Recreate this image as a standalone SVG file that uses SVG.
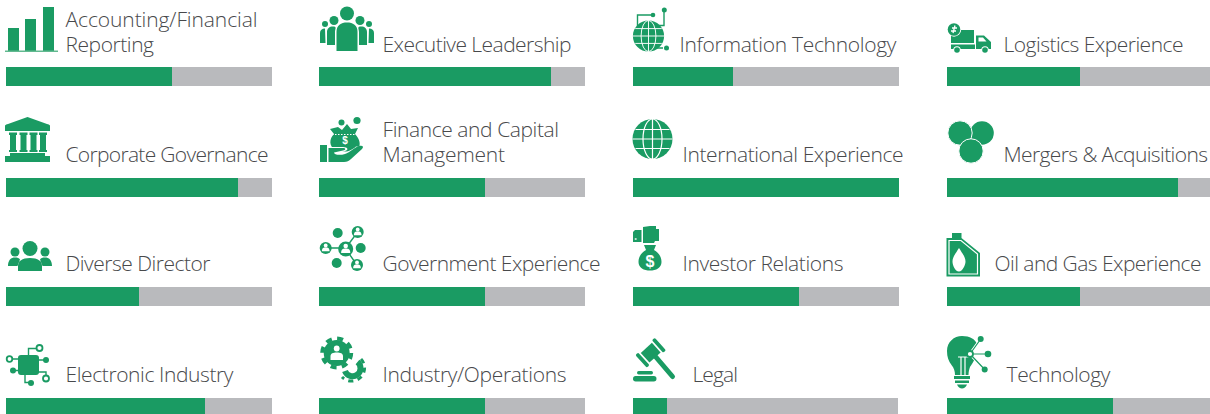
<svg xmlns="http://www.w3.org/2000/svg" width="1210" height="414" viewBox="0 0 1210 414">
<style>
.g{fill:#1a9b63}
.b{fill:#b9babd}
.w{fill:#fff}
.t{font-family:"Open Sans","Liberation Sans",sans-serif;font-weight:300;font-size:21px;fill:#48494b}
.l{fill:none;stroke:#1a9b63;stroke-width:1.4}
.wl{fill:none;stroke:#fff;stroke-width:1.2}
.r{fill:#fff;stroke:#1a9b63;stroke-width:1.8}
.d{font-family:"Liberation Sans",sans-serif;font-weight:700;fill:#fff;text-anchor:middle}
</style>
<defs>
<g id="globe"><circle r="20" class="g"/><g class="wl"><ellipse rx="9.500" ry="20"/><path d="M0-20V20M-20 0H20M-17-9.500H17M-17 9.500H17"/></g></g>
<g id="person"><circle cy="-2.500" r="1.900" class="w"/><path d="M-3.800 3.300C-3.800 0-2 -.4 0-.4S3.800 0 3.800 3.300Z" class="w"/></g>
</defs>

<g id="accounting">
<rect x="6" y="67" width="266" height="19" class="b"/><rect x="6" y="67" width="166" height="19" class="g"/>
<path class="g" d="M8 28h11v23H8zM25 19h11v32H25zM43 7h11v44H43z"/><rect x="5" y="50.500" width="53" height="1.500" fill="#62b990"/>
<text class="t"><tspan x="65.500" y="27" textLength="192">Accounting/Financial</tspan><tspan x="65.500" y="52" textLength="88.500">Reporting</tspan></text>
</g>
<g id="executive">
<rect x="319" y="67" width="266" height="19" class="b"/><rect x="319" y="67" width="232" height="19" class="g"/>
<circle cx="347" cy="13.500" r="7" class="g"/><circle cx="334" cy="20.500" r="4.500" class="g"/><circle cx="360" cy="20.500" r="4.500" class="g"/><circle cx="325" cy="24" r="3" class="g"/><circle cx="369" cy="24" r="3" class="g"/>
<path class="g" d="M336.500 51V32C336.500 25 341 22.500 347 22.500S357.500 25 357.500 32V51Z"/>
<path class="g" d="M327 45V32C327 28 330 26 334 26.500C337 27 335 29 335 32V45ZM367 45V32C367 28 364 26 360 26.500C357 27 359 29 359 32V45Z"/>
<path class="g" d="M320 43V33C320 30 322 28.500 325 28.500L325.500 43ZM374 43V33C374 30 372 28.500 369 28.500L368.500 43Z"/>
<text class="t" x="382.500" y="52" textLength="189">Executive Leadership</text>
</g>
<g id="information-technology">
<rect x="633" y="67" width="266" height="19" class="b"/><rect x="633" y="67" width="100" height="19" class="g"/>
<path class="l" d="M637.500 26V15H653M664 10V25.500H652M650 48H663"/><circle cx="653" cy="15" r="2.300" class="g"/><circle cx="664.300" cy="10" r="2.500" class="g"/><circle cx="666.500" cy="48" r="2.500" class="g"/>
<use href="#globe" transform="translate(648.500 36) scale(.78)"/>
<text class="t" x="679.500" y="52" textLength="217">Information Technology</text>
</g>
<g id="logistics">
<rect x="947" y="67" width="263" height="19" class="b"/><rect x="947" y="67" width="133" height="19" class="g"/>
<path class="g" d="M951 30H974V43H951ZM976 35.500H984L991 42V49H976ZM951 44.500H975V49H951Z"/><path class="w" d="M978.500 37.500H983L986.500 41.500H978.500Z"/>
<circle cx="957" cy="50" r="3.800" class="w"/><circle cx="957" cy="50" r="2.800" class="g"/><circle cx="985" cy="50" r="3.800" class="w"/><circle cx="985" cy="50" r="2.800" class="g"/>
<circle cx="954" cy="29.500" r="7.200" class="w"/><circle cx="954" cy="29.500" r="6.300" class="g"/><path d="M955 25.500L953 33M952 28H957M951 31H956" fill="none" stroke="#fff" stroke-width="1.300"/>
<text class="t" x="1003.500" y="52" textLength="180">Logistics Experience</text>
</g>

<g id="corporate-governance">
<rect x="6" y="178" width="266" height="19" class="b"/><rect x="6" y="178" width="232" height="19" class="g"/>
<path class="g" d="M5 125.500Q6 124 8 124L27.500 117L47 124Q49 124 50 125.500V131H5ZM9 132.500H17V135H16V150H17V152H9V150H10V135H9ZM19.500 132.500H27.500V135H26.500V150H27.500V152H19.500V150H20.500V135H19.500ZM29.500 132.500H37.500V135H36.500V150H37.500V152H29.500V150H30.500V135H29.500ZM39 132.500H47V135H46V150H47V152H39V150H40V135H39ZM10 153H45V156H50V162H5V156H10Z"/>
<text class="t" x="65.500" y="162" textLength="203">Corporate Governance</text>
</g>
<g id="finance">
<rect x="319" y="178" width="266" height="19" class="b"/><rect x="319" y="178" width="166" height="19" class="g"/>
<circle cx="341.500" cy="122.500" r="3" class="g"/><circle cx="357" cy="120.500" r="3.600" class="g"/>
<path class="g" d="M330 129L338 127L342 130L347 124L351 129L358 128L355 134C360 139 361 145 358 149L349 152L335 150C329 146 329 139 334 134Z"/>
<path d="M332 134.500H357" stroke="#fff" stroke-width="1" stroke-dasharray="1.500 1.500" fill="none"/><text class="d" x="345" y="144" font-size="10">$</text>
<path class="w" d="M327 147H343C348 147 349 150 345 151L336 152.500C345 154 352 150 356 146.500H365L360 152L348 161H328Z"/>
<path class="g" d="M320 145H327V162H320ZM328.500 148H343C346 148 346 150 343 150.500L334 152.500C334 155 340 155.500 345 154C350 152.500 355 147 359 146C363 145 364 147 362 149L351 159C349 161 347 162 344 162H328.500Z"/>
<text class="t"><tspan x="382.500" y="137" textLength="176.500">Finance and Capital</tspan><tspan x="382.500" y="162" textLength="122.500">Management</tspan></text>
</g>
<g id="international">
<rect x="633" y="178" width="266" height="19" class="g"/>
<use href="#globe" transform="translate(652.500 139)"/>
<text class="t" x="682.500" y="162" textLength="221">International Experience</text>
</g>
<g id="mergers">
<rect x="947" y="178" width="263" height="19" class="b"/><rect x="947" y="178" width="231" height="19" class="g"/>
<circle cx="982" cy="133" r="11.800" class="g"/><circle cx="960" cy="133" r="12.200" class="g" stroke="#fff"/><circle cx="971" cy="151" r="12.200" class="g" stroke="#fff"/>
<text class="t" x="1003.500" y="162" textLength="204.500">Mergers &amp; Acquisitions</text>
</g>

<g id="diverse-director">
<rect x="6" y="287" width="266" height="19" class="b"/><rect x="6" y="287" width="133" height="19" class="g"/>
<circle cx="15" cy="252" r="4.500" class="g"/><circle cx="45" cy="252" r="4.500" class="g"/><circle cx="30" cy="248.500" r="7.500" class="g"/>
<path class="g" d="M8 266C8 260 11 257.500 15 257.500C17.500 257.500 19 258 20 259.500L17.500 266ZM52 266C52 260 49 257.500 45 257.500C42.500 257.500 41 258 40 259.500L42.500 266Z"/>
<path class="g" d="M18 271V266C18 261 22 258 30 258S42 261 42 266V271Z"/>
<text class="t" x="65.500" y="271" textLength="145">Diverse Director</text>
</g>
<g id="government">
<rect x="319" y="287" width="266" height="19" class="b"/><rect x="319" y="287" width="166" height="19" class="g"/>
<path class="l" d="M325.700 248H345.700L357.700 232M345.700 249L357 265"/>
<circle cx="337.700" cy="233" r="5" class="g"/><circle cx="360.700" cy="248" r="5" class="g"/><circle cx="336.700" cy="263" r="5" class="g"/>
<g transform="translate(345.700 249)"><circle r="7.500" class="g"/><use href="#person" transform="scale(1.200)"/></g>
<g transform="translate(357.700 232)"><circle r="6" class="g"/><use href="#person"/></g>
<g transform="translate(325.700 248)"><circle r="6" class="g"/><use href="#person"/></g>
<g transform="translate(357 265)"><circle r="6" class="g"/><use href="#person"/></g>
<text class="t" x="382.500" y="271" textLength="218">Government Experience</text>
</g>
<g id="investor-relations">
<rect x="633" y="287" width="266" height="19" class="b"/><rect x="633" y="287" width="166" height="19" class="g"/>
<path class="g" d="M633 232L635 230H641.500V242H633ZM643 227L650 226H656V229H659V241H655L654 243H643Z"/><path d="M634.500 239H637M635.700 238V240" stroke="#fff" stroke-width=".7" fill="none"/>
<path class="g" d="M644 245H656L654 250C659 253 661.500 257 661.500 262C661.500 268 656 270.500 650 270.500S638.500 268 638.500 262C638.500 257 641 253 646 250Z"/>
<text class="d" x="650" y="267" font-size="16">$</text>
<text class="t" x="682.500" y="271" textLength="161">Investor Relations</text>
</g>
<g id="oil-gas">
<rect x="947" y="287" width="263" height="19" class="b"/><rect x="947" y="287" width="133" height="19" class="g"/>
<path class="g" d="M946.500 238H952V233H961.500V238L980 253V276.500H946.500Z"/>
<path class="wl" d="M949 240.500H961L977.500 254V274H949Z"/>
<path class="w" d="M959 248C962 253 965.500 257 965.500 261.500C965.500 265 962.500 271.500 959 271.500C955 271.500 952.500 265 952.500 261.500C952.500 257 956 253 959 248Z"/>
<text class="t" x="994.500" y="271" textLength="207">Oil and Gas Experience</text>
</g>

<g id="electronic">
<rect x="6" y="398" width="266" height="16" class="b"/><rect x="6" y="398" width="199" height="16" class="g"/>
<path class="l" d="M28.500 355V348.500H37M12 359H20M38 360H46M14 370.500H20M25 375V382.500H31M38 372H46V376" stroke-width="1.800"/>
<rect x="18" y="355" width="21" height="20" rx="3" class="g"/>
<circle cx="39.500" cy="348" r="3" class="r"/><circle cx="9.500" cy="359" r="2.800" class="r"/><circle cx="46" cy="378.500" r="3" class="r"/>
<circle cx="46" cy="360" r="3" class="g"/><circle cx="13" cy="370.500" r="3" class="g"/><circle cx="31" cy="383" r="3" class="g"/>
<text class="t" x="65.500" y="382" textLength="168">Electronic Industry</text>
</g>
<g id="industry">
<rect x="319" y="398" width="266" height="16" class="b"/><rect x="319" y="398" width="166" height="16" class="g"/>
<circle cx="336.700" cy="353" r="13" class="g"/><circle cx="336.700" cy="353" r="14.500" fill="none" stroke="#1a9b63" stroke-width="4" stroke-dasharray="6 5.390"/>
<circle cx="336.700" cy="348.500" r="2.900" class="w"/><path class="w" d="M330.500 360V356C330.500 353.500 333 352.500 336.700 352.500S343 353.500 343 356V360Z"/>
<path fill="none" stroke="#1a9b63" stroke-width="6" d="M357.500 362A8 8 0 1 1 345 371"/><path fill="none" stroke="#1a9b63" stroke-width="3" stroke-dasharray="5 4.500" d="M361 359A12 12 0 1 1 342 377"/>
<text class="t" x="382.500" y="382" textLength="184">Industry/Operations</text>
</g>
<g id="legal">
<rect x="633" y="398" width="265" height="16" class="b"/><rect x="633" y="398" width="34" height="16" class="g"/>
<g transform="translate(650.700 352.700) rotate(-42)"><rect x="-7.500" y="-6.500" width="15" height="13" class="g"/><rect x="-13" y="-8.500" width="3.800" height="17" rx="1.500" class="g"/><rect x="9.200" y="-8.500" width="3.800" height="17" rx="1.500" class="g"/></g>
<path d="M655 356L672.500 376.500" stroke="#1a9b63" stroke-width="5" stroke-linecap="round" fill="none"/>
<rect x="633" y="376" width="23.500" height="5.500" rx="2.700" class="g"/><rect x="637" y="371" width="16" height="3.500" rx="1.700" class="g"/>
<text class="t" x="692.500" y="382" textLength="45.500">Legal</text>
</g>
<g id="technology">
<rect x="947" y="398" width="263" height="16" class="b"/><rect x="947" y="398" width="166" height="16" class="g"/>
<path class="g" d="M962 336C970 336 975 339 977 344L970 352L975 358C974 361 972 364 970 367C969 370 968.500 372 968.500 375H955C955 371 954 368 951.500 365C948.500 361 947 357 947 351C947 342 954 336 962 336Z"/>
<path class="g" d="M954 376H970V379H954ZM955 380.500H969V383H955ZM957 384.500H967C966 387 964 388.500 962 388.500S958 387 957 384.500Z"/>
<path class="wl" d="M958 357H969M961 357V375M965 357V375"/>
<path d="M970 354L980.700 339M970 354H988M970 354L984.700 369.500" stroke="#fff" stroke-width="3" fill="none"/>
<path d="M970 354L980.700 339M970 354H988M970 354L984.700 369.500" stroke="#1a9b63" stroke-width="1.200" fill="none"/>
<circle cx="980.700" cy="339" r="3" class="g"/><circle cx="988" cy="354" r="3.300" class="g"/><circle cx="984.700" cy="369.500" r="3" class="g"/>
<circle cx="970" cy="354" r="3" class="r"/>
<text class="t" x="1006.500" y="382" textLength="104">Technology</text>
</g>
</svg>
